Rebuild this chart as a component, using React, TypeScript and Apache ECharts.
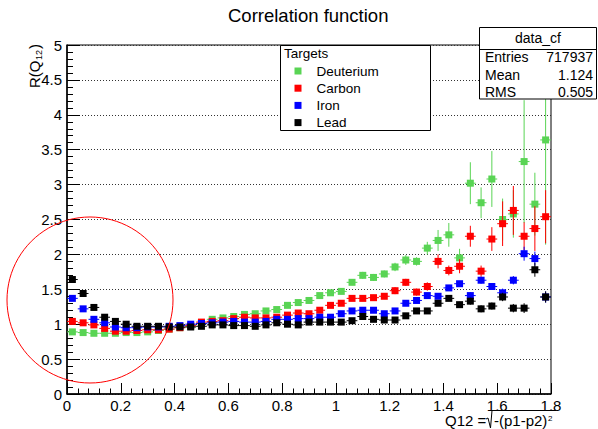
import React, { useEffect, useRef } from "react";
import * as echarts from "echarts";

const FONT = "'Liberation Sans', Arial, Helvetica, sans-serif";

const binCenters = [
  0.02, 0.06, 0.1, 0.14, 0.18,
  0.22, 0.26, 0.3, 0.34, 0.38,
  0.42, 0.46, 0.5, 0.54, 0.58,
  0.62, 0.66, 0.7, 0.74, 0.78,
  0.82, 0.86, 0.9, 0.94, 0.98,
  1.02, 1.06, 1.1, 1.14, 1.18,
  1.22, 1.26, 1.3, 1.34, 1.38,
  1.42, 1.46, 1.5, 1.54, 1.58,
  1.62, 1.66, 1.7, 1.74, 1.78,
];
const binHalfWidth = 0.02;

const deuterium = [
  0.89, 0.88, 0.87, 0.87, 0.87,
  0.88, 0.88, 0.89, 0.91, 0.93,
  0.95, 0.97, 1.01, 1.07, 1.09,
  1.11, 1.14, 1.15, 1.19, 1.21,
  1.27, 1.31, 1.34, 1.41, 1.45,
  1.47, 1.6, 1.7, 1.67, 1.72,
  1.82, 1.92, 1.9, 2.09, 2.2,
  2.28, 1.95, 3.02, 2.74, 3.08,
  2.5, 2.58, 3.33, 2.72, 3.64,
];
const deuteriumErr = [
  0.02, 0.02, 0.02, 0.02, 0.02,
  0.02, 0.02, 0.02, 0.02, 0.02,
  0.02, 0.02, 0.02, 0.02, 0.02,
  0.02, 0.02, 0.02, 0.03, 0.03,
  0.03, 0.03, 0.03, 0.03, 0.04,
  0.04, 0.04, 0.05, 0.05, 0.05,
  0.06, 0.07, 0.06, 0.09, 0.15,
  0.17, 0.13, 0.3, 0.22, 0.4,
  0.3, 0.34, 0.88, 0.45, 1.5,
];

const carbon = [
  1.04, 1.02, 0.99, 0.94, 0.9,
  0.9, 0.91, 0.92, 0.92, 0.93,
  0.95, 0.98, 1.03, 1.04, 1.05,
  1.08, 1.1, 1.09, 1.09, 1.1,
  1.13, 1.16, 1.15, 1.2, 1.27,
  1.3, 1.37, 1.37, 1.38, 1.4,
  1.48, 1.6, 1.46, 1.54, 1.9,
  1.77, 1.83, 2.26, 1.76, 2.22,
  2.44, 2.63, 2.26, 2.37, 2.54,
];
const carbonErr = [
  0.015, 0.015, 0.015, 0.015, 0.015,
  0.015, 0.015, 0.015, 0.015, 0.015,
  0.015, 0.015, 0.015, 0.015, 0.015,
  0.02, 0.02, 0.02, 0.02, 0.02,
  0.02, 0.02, 0.03, 0.03, 0.03,
  0.03, 0.03, 0.04, 0.04, 0.04,
  0.05, 0.05, 0.05, 0.06, 0.1,
  0.07, 0.1, 0.15, 0.08, 0.17,
  0.32, 0.35, 0.2, 0.32, 0.38,
];

const iron = [
  1.37, 1.22, 1.07, 1.02, 0.96,
  0.95, 0.95, 0.96, 0.96, 0.97,
  0.98, 1.0, 1.01, 1.02, 1.03,
  1.04, 1.03, 1.03, 1.04, 1.07,
  1.07, 1.08, 1.08, 1.1, 1.1,
  1.15, 1.19, 1.2, 1.2, 1.15,
  1.19, 1.3, 1.34, 1.41, 1.4,
  1.52, 1.58, 1.41, 1.63, 1.54,
  1.45, 1.63, 2.01, 1.94, 1.39,
];
const ironErr = [
  0.015, 0.015, 0.015, 0.015, 0.015,
  0.015, 0.015, 0.015, 0.015, 0.015,
  0.015, 0.015, 0.015, 0.015, 0.015,
  0.015, 0.015, 0.015, 0.02, 0.02,
  0.02, 0.02, 0.02, 0.02, 0.02,
  0.02, 0.02, 0.03, 0.03, 0.03,
  0.03, 0.03, 0.03, 0.04, 0.04,
  0.04, 0.04, 0.05, 0.05, 0.05,
  0.06, 0.06, 0.1, 0.1, 0.08,
];

const lead = [
  1.64, 1.44, 1.24, 1.1, 1.04,
  1.0, 0.97, 0.97, 0.97, 0.96,
  0.96, 0.96, 0.97, 0.99, 0.99,
  0.98, 0.98, 0.97, 0.99, 1.02,
  1.0, 0.99, 1.03, 1.03, 1.03,
  1.03, 1.05, 1.11, 1.07, 1.06,
  1.06, 1.12, 1.19, 1.19, 1.3,
  1.37, 1.28, 1.33, 1.22, 1.26,
  1.39, 1.23, 1.23, 1.78, 1.39,
];
const leadErr = [
  0.015, 0.015, 0.015, 0.015, 0.015,
  0.015, 0.015, 0.015, 0.015, 0.015,
  0.015, 0.015, 0.015, 0.015, 0.015,
  0.015, 0.015, 0.015, 0.02, 0.02,
  0.02, 0.02, 0.02, 0.02, 0.02,
  0.02, 0.02, 0.03, 0.03, 0.03,
  0.03, 0.03, 0.03, 0.04, 0.04,
  0.04, 0.04, 0.05, 0.05, 0.05,
  0.06, 0.06, 0.07, 0.1, 0.08,
];

const targetNames = ["Deuterium", "Carbon", "Iron", "Lead"];
const targetColors = ["#59d454", "#ff0000", "#0000ff", "#000000"];
const targetValues = [deuterium, carbon, iron, lead];
const targetErrors = [deuteriumErr, carbonErr, ironErr, leadErr];

const chartTitle = "Correlation function";
const legendTitle = "Targets";
const statsTitle = "data_cf";
const statsLabels = ["Entries", "Mean", "RMS"];
const statsValues = ["717937", "1.124", "0.505"];

function makeErrRender(color: string) {
  return (params: any, api: any) => {
    const x = api.value(0);
    const y = api.value(1);
    const e = api.value(2);
    const cs = params.coordSys;
    const clampY = (v: number) => Math.max(cs.y, Math.min(cs.y + cs.height, v));
    const c = api.coord([x, y]);
    const top = api.coord([x, y + e])[1];
    const bot = api.coord([x, y - e])[1];
    const l = api.coord([x - binHalfWidth, y])[0];
    const r = api.coord([x + binHalfWidth, y])[0];
    return {
      type: "group",
      children: [
        {
          type: "line",
          shape: { x1: c[0], y1: clampY(top), x2: c[0], y2: clampY(bot) },
          style: { stroke: color, lineWidth: 1 },
        },
        {
          type: "line",
          shape: { x1: l, y1: c[1], x2: r, y2: c[1] },
          style: { stroke: color, lineWidth: 1 },
        },
      ],
    };
  };
}

export default function App() {
  const ref = useRef<HTMLDivElement>(null);

  useEffect(() => {
    document.body.style.margin = "0";
    if (!ref.current) return;
    const chart = echarts.init(ref.current, undefined, { renderer: "svg" });

    const series: any[] = [];
    targetNames.forEach((name, k) => {
      const vals = targetValues[k];
      const errs = targetErrors[k];
      series.push({
        name: name + " errors",
        type: "custom",
        silent: true,
        z: 2 + k * 2,
        renderItem: makeErrRender(targetColors[k]),
        encode: { x: 0, y: 1 },
        data: binCenters.map((x, i) => [x, vals[i], errs[i]]),
      });
      series.push({
        name,
        type: "scatter",
        silent: true,
        z: 3 + k * 2,
        symbol: "rect",
        symbolSize: 7,
        itemStyle: { color: targetColors[k], opacity: 1 },
        data: binCenters.map((x, i) => [x, vals[i]]),
      });
    });

    const graphics: any[] = [
      // legend box
      {
        type: "rect",
        z: 3,
        shape: { x: 280.5, y: 45.5, width: 150, height: 85 },
        style: { fill: "#fff", stroke: "#000", lineWidth: 1 },
      },
      {
        type: "text",
        z: 5,
        x: 284,
        y: 53,
        style: {
          text: legendTitle,
          fontSize: 13.5,
          fontFamily: FONT,
          fill: "#000",
          verticalAlign: "middle",
          align: "left",
        },
      },
      // stats box
      {
        type: "rect",
        z: 3,
        shape: { x: 479.5, y: 27.5, width: 117, height: 71.5 },
        style: { fill: "#fff", stroke: "#000", lineWidth: 1 },
      },
      {
        type: "line",
        z: 4,
        shape: { x1: 479.5, y1: 49.5, x2: 596.5, y2: 49.5 },
        style: { stroke: "#000", lineWidth: 1 },
      },
      {
        type: "text",
        z: 5,
        x: 538,
        y: 38,
        style: {
          text: statsTitle,
          fontSize: 14,
          fontFamily: FONT,
          fill: "#000",
          align: "center",
          verticalAlign: "middle",
        },
      },
      // red circle annotation
      {
        type: "circle",
        z: 10,
        shape: { cx: 90, cy: 300, r: 83 },
        style: { fill: "none", stroke: "#ff0000", lineWidth: 1 },
      },
      // y axis title (rotated)
      {
        type: "group",
        x: 34,
        y: 88,
        rotation: Math.PI / 2,
        z: 5,
        children: [
          {
            type: "text",
            x: 0,
            y: 0,
            style: {
              text: "R(Q",
              fontSize: 15,
              fontFamily: FONT,
              fill: "#000",
              align: "left",
              verticalAlign: "middle",
            },
          },
          {
            type: "text",
            x: 28,
            y: 5,
            style: {
              text: "12",
              fontSize: 9,
              fontFamily: FONT,
              fill: "#000",
              align: "left",
              verticalAlign: "middle",
            },
          },
          {
            type: "text",
            x: 39,
            y: 0,
            style: {
              text: ")",
              fontSize: 15,
              fontFamily: FONT,
              fill: "#000",
              align: "left",
              verticalAlign: "middle",
            },
          },
        ],
      },
      // x axis title
      {
        type: "text",
        z: 5,
        x: 445,
        y: 420,
        style: {
          text: "Q12 = ",
          fontSize: 15,
          fontFamily: FONT,
          fill: "#000",
          align: "left",
          verticalAlign: "middle",
        },
      },
      {
        type: "polyline",
        z: 5,
        shape: {
          points: [
            [486, 419],
            [488, 418],
            [490.5, 428],
            [492, 410.5],
            [556, 410.5],
          ],
        },
        style: { stroke: "#000", lineWidth: 1, fill: "none" },
      },
      {
        type: "text",
        z: 5,
        x: 494,
        y: 420,
        style: {
          text: "-(p1-p2)",
          fontSize: 15,
          fontFamily: FONT,
          fill: "#000",
          align: "left",
          verticalAlign: "middle",
        },
      },
      {
        type: "text",
        z: 5,
        x: 548,
        y: 418,
        style: {
          text: "2",
          fontSize: 8,
          fontFamily: FONT,
          fill: "#000",
          align: "left",
          verticalAlign: "middle",
        },
      },
    ];

    statsLabels.forEach((lab, i) => {
      const yy = 57 + i * 17.5;
      graphics.push({
        type: "text",
        z: 5,
        x: 485,
        y: yy,
        style: {
          text: lab,
          fontSize: 14,
          fontFamily: FONT,
          fill: "#000",
          align: "left",
          verticalAlign: "middle",
        },
      });
      graphics.push({
        type: "text",
        z: 5,
        x: 593,
        y: yy,
        style: {
          text: statsValues[i],
          fontSize: 14,
          fontFamily: FONT,
          fill: "#000",
          align: "right",
          verticalAlign: "middle",
        },
      });
    });

    chart.setOption({
      animation: false,
      backgroundColor: "#fff",
      title: {
        text: chartTitle,
        left: 228,
        top: 6,
        padding: 0,
        textStyle: {
          fontSize: 18.5,
          fontWeight: "normal",
          fontFamily: FONT,
          color: "#000",
        },
      },
      grid: {
        left: 67,
        right: 47,
        top: 45,
        bottom: 35,
        show: true,
        borderColor: "#000",
        borderWidth: 1,
        backgroundColor: "transparent",
      },
      legend: {
        data: targetNames,
        orient: "vertical",
        left: 294.5,
        top: 64,
        padding: 0,
        itemWidth: 7,
        itemHeight: 7,
        itemGap: 3.2,
        icon: "rect",
        selectedMode: false,
        z: 6,
        textStyle: {
          fontSize: 13.5,
          fontFamily: FONT,
          color: "#000",
          lineHeight: 14,
          padding: [0, 0, 0, 10],
        },
      },
      xAxis: {
        type: "value",
        min: 0,
        max: 1.8,
        interval: 0.2,
        axisLine: { show: true, onZero: false, lineStyle: { color: "#000", width: 1.5 } },
        axisTick: { show: true, inside: true, length: 11, lineStyle: { color: "#000" } },
        minorTick: { show: true, splitNumber: 5, length: 5.5, lineStyle: { color: "#000" } },
        axisLabel: { margin: 4, fontSize: 15, lineHeight: 15, color: "#000", fontFamily: FONT },
        splitLine: { show: false },
      },
      yAxis: {
        type: "value",
        min: 0,
        max: 5,
        interval: 0.5,
        axisLine: { show: true, onZero: false, lineStyle: { color: "#000", width: 1.5 } },
        axisTick: { show: true, inside: true, length: 13, lineStyle: { color: "#000" } },
        minorTick: { show: true, splitNumber: 5, length: 6, lineStyle: { color: "#000" } },
        axisLabel: { margin: 5, fontSize: 15, color: "#000", fontFamily: FONT },
        splitLine: { show: true, lineStyle: { color: "#333", width: 1, type: [1, 2] } },
      },
      graphic: { elements: graphics },
      series,
    });

    return () => {
      chart.dispose();
    };
  }, []);

  return <div ref={ref} style={{ width: 598, height: 429 }} />;
}
